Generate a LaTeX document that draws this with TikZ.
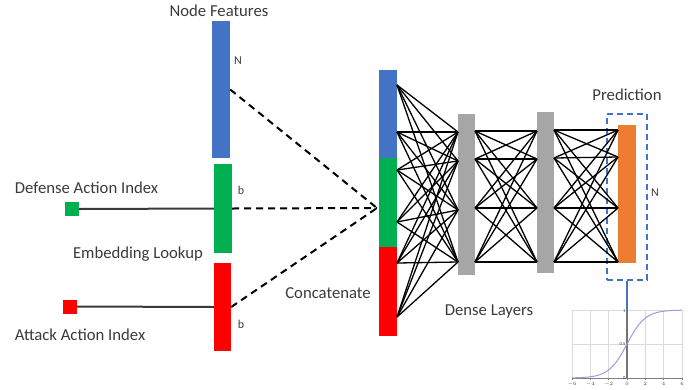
\documentclass[tikz,border=0pt]{standalone}
\usepackage{fontspec}
\setmainfont{Carlito}
\definecolor{txt}{HTML}{3A3A3A}
\definecolor{cblue}{HTML}{4472C4}
\definecolor{cgreen}{HTML}{00B050}
\definecolor{cred}{HTML}{FF0000}
\definecolor{corange}{HTML}{ED7D31}
\definecolor{cgray}{HTML}{A6A6A6}
\definecolor{gridc}{HTML}{DADADA}
\definecolor{curvec}{HTML}{9A9AE6}
\begin{document}
\begin{tikzpicture}[x=1pt,y=-1pt,
  every node/.style={text=txt},
  lbl/.style={font=\fontsize{16.7}{18}\selectfont},
  small/.style={font=\fontsize{12}{14}\selectfont},
  tiny/.style={font=\fontsize{4.5}{5}\selectfont, inner sep=0.5pt},
  bar/.style={draw=none, inner sep=0pt, minimum width=#1},
  sq/.style={draw=none, inner sep=0pt, minimum width=13.5pt, minimum height=14pt},
  feed/.style={draw=txt, line width=2pt},
  dashc/.style={draw=black, line width=2pt, dash pattern=on 7pt off 5pt},
  net/.style={draw=black, line width=1.3pt},
  predbox/.style={draw=cblue, line width=2pt, dash pattern=on 6pt off 4pt, inner sep=0pt, minimum width=40pt, minimum height=166pt},
  gridl/.style={draw=gridc, line width=0.6pt},
  curve/.style={draw=curvec, line width=1pt}
]
\useasboundingbox (0,0) rectangle (700,389);

% input embeddings
\node[bar=18pt, minimum height=137pt, fill=cblue] (nf) at (221,89.5) {};
\node[bar=18pt, minimum height=89pt, fill=cgreen] (defemb) at (223,208.5) {};
\node[bar=17pt, minimum height=88pt, fill=cred] (attemb) at (222.5,307) {};
\node[sq, fill=cgreen] (defsq) at (72,209) {};
\node[sq, fill=cred] (attsq) at (70,306.5) {};

\node[lbl] (tnf) at (219,11) {Node Features};
\node[small] (tn1) at (238,61) {N};
\node[small] (tb1) at (241,190) {b};
\node[small] (tb2) at (241,324) {b};
\node[lbl] (tdef) at (86.5,188) {Defense Action Index};
\node[lbl] (temb) at (138,254) {Embedding Lookup};
\node[lbl] (tatt) at (80,335) {Attack Action Index};
\node[lbl] (tcat) at (328,293) {Concatenate};
\node[lbl] (tdense) at (489,311) {Dense Layers};
\node[lbl] (tpred) at (627,95) {Prediction};
\node[small] (tn2) at (655,193) {N};

\draw[feed] (defsq.east) -- (defemb.west);
\draw[feed] (attsq.east) -- (attemb.west);

% concatenated vector
\node[bar=18pt, minimum height=88pt, fill=cblue] (cb) at (388,114) {};
\node[bar=18pt, minimum height=89pt, fill=cgreen] (cg) at (388,202.5) {};
\node[bar=18pt, minimum height=89pt, fill=cred] (cr) at (388,291.5) {};
\coordinate (cin) at (377,208);

\draw[dashc] (nf.east) -- (cin);
\draw[dashc] (defemb.east) -- (cin);
\draw[dashc] (attemb.east) -- (cin);

% dense layers and output
\node[bar=17pt, minimum height=161pt, fill=cgray] (d1) at (466.5,194.5) {};
\node[bar=17pt, minimum height=161pt, fill=cgray] (d2) at (545.5,192.5) {};
\node[bar=18pt, minimum height=138pt, fill=corange] (out) at (627,194) {};
\node[predbox] (pbox) at (627,197) {};

% connection points
\foreach \y [count=\i] in {85,132,170,222,263,317} \coordinate (c\i) at (397,\y);
\foreach \y [count=\i] in {132,161,210,262} \coordinate (a\i) at (458,\y);
\foreach \y [count=\i] in {131,159,208,262} \coordinate (b\i) at (475,\y);
\foreach \y [count=\i] in {131,159,208,262} \coordinate (e\i) at (537,\y);
\foreach \y [count=\i] in {130,158,208,262} \coordinate (f\i) at (554,\y);
\foreach \y [count=\i] in {130,157,208,262} \coordinate (o\i) at (618,\y);

\foreach \i in {1,...,6} \foreach \j in {1,...,4} \draw[net] (c\i) -- (a\j);
\foreach \i in {1,...,4} \foreach \j in {1,...,4} \draw[net] (b\i) -- (e\j);
\foreach \i in {1,...,4} \foreach \j in {1,...,4} \draw[net] (f\i) -- (o\j);

% sigmoid plot
\node[draw=none, inner sep=0pt, minimum width=110pt, minimum height=68pt] (sig) at (627,344) {};
\foreach \k in {0,...,6} \draw[gridl] ({572+\k*55/3},310) -- ({572+\k*55/3},378);
\foreach \yy in {310,344} \draw[gridl] (572,\yy) -- (682,\yy);
\draw[draw=gray, line width=0.8pt] (572,378) -- (682,378);
\foreach \k in {0,...,6} \draw[draw=gray, line width=0.4pt] ({572+\k*55/3},378) -- ({572+\k*55/3},380);
\draw[draw=gray!90!black, line width=1.4pt] (627,310) -- (627,378);
\draw[curve] plot[domain=-6:6, samples=80] ({627+\x*55/6}, {378-68/(1+exp(-\x))});
\foreach \t [count=\k from 0] in {-6,-4,-2,0,2,4,6}
  \node[tiny] (tk\k) at ({572+\k*55/3},384) {$\t$};
\node[tiny, anchor=east] (ty1) at (626,311) {1};
\node[tiny, anchor=east] (ty2) at (626,344) {0.5};
\node[tiny, anchor=east] (ty3) at (626,378) {0};

\draw[draw=cblue, line width=2pt] (pbox.south) -- (sig.north);
\end{tikzpicture}
\end{document}
